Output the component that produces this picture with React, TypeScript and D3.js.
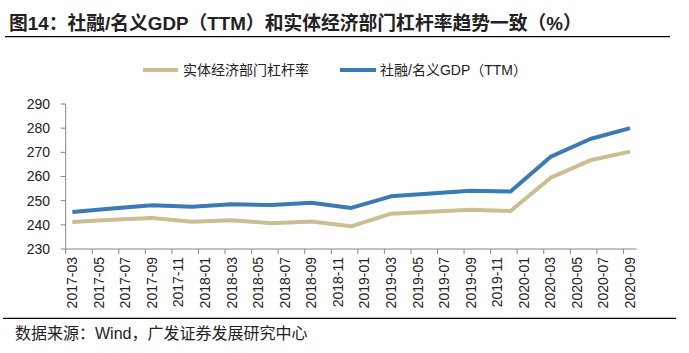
import * as d3 from 'd3';

// quarter-end months, values in %
const quarters = [
  '2017-03', '2017-06', '2017-09', '2017-12',
  '2018-03', '2018-06', '2018-09', '2018-12',
  '2019-03', '2019-06', '2019-09', '2019-12',
  '2020-03', '2020-06', '2020-09',
];
const realEconomyLeverage = [
  241.2, 242.1, 242.8, 241.3, 241.9, 240.7, 241.4, 239.4,
  244.6, 245.4, 246.2, 245.7, 259.4, 266.7, 270.3,
];
const tsfToGdp = [
  245.3, 246.8, 248.1, 247.5, 248.5, 248.2, 249.1, 247.0,
  251.8, 253.0, 254.1, 253.8, 268.1, 275.5, 280.0,
];
const yTicks = [230, 240, 250, 260, 270, 280, 290];
const xTickLabels = [
  '2017-03', '2017-05', '2017-07', '2017-09', '2017-11',
  '2018-01', '2018-03', '2018-05', '2018-07', '2018-09', '2018-11',
  '2019-01', '2019-03', '2019-05', '2019-07', '2019-09', '2019-11',
  '2020-01', '2020-03', '2020-05', '2020-07', '2020-09',
];

const seriesNames = ['实体经济部门杠杆率', '社融/名义GDP（TTM）'];
const colors = ['#CBBE93', '#3A7AB6'];

const fmt = d3.timeFormat('%Y-%m');
const months = d3.timeMonths(new Date(2017, 2, 1), new Date(2020, 9, 1)).map(fmt);

export default function App() {
  const width = 689;
  const height = 353;
  const left = 65.7;
  const right = 636.7;
  const top = 104;
  const bottom = 249;

  const x = d3.scaleBand<string>().domain(months).range([left, right]).padding(0);
  const y = d3.scaleLinear().domain([230, 290]).range([bottom, top]);
  const cx = (m: string) => (x(m) ?? 0) + x.bandwidth() / 2;

  const line = d3
    .line<number>()
    .x((_, i) => cx(quarters[i]))
    .y((d) => y(d));

  const series = [realEconomyLeverage, tsfToGdp];
  const font = '"Liberation Sans", Arial, "Noto Sans CJK SC", sans-serif';

  const legend = [
    { x1: 143, x2: 178, tx: 183 },
    { x1: 340, x2: 376, tx: 380 },
  ];

  return (
    <svg
      width={width}
      height={height}
      style={{ position: 'absolute', left: 0, top: 0, background: '#fff' }}
      fontFamily={font}
    >
      <text x={9} y={23} dy="0.35em" fontSize={18.8} fontWeight="bold" fill="#222">
        图14：社融/名义GDP（TTM）和实体经济部门杠杆率趋势一致（%）
      </text>
      <line x1={5} x2={670} y1={36.7} y2={36.7} stroke="#000" strokeWidth={1.2} />

      {legend.map((l, i) => (
        <g key={seriesNames[i]}>
          <line x1={l.x1} x2={l.x2} y1={70} y2={70} stroke={colors[i]} strokeWidth={4} />
          <text x={l.tx} y={70} dy="0.35em" fontSize={14} fill="#222">
            {seriesNames[i]}
          </text>
        </g>
      ))}

      {/* y axis */}
      <line x1={left} x2={left} y1={top} y2={bottom} stroke="#868686" />
      {yTicks.map((t) => (
        <g key={t}>
          <line x1={left - 5} x2={left} y1={y(t)} y2={y(t)} stroke="#868686" />
          <text x={50} y={y(t)} dy="0.35em" textAnchor="end" fontSize={14} fill="#222">
            {t}
          </text>
        </g>
      ))}

      {/* x axis, monthly bands, label every 2nd month */}
      <line x1={left} x2={right} y1={bottom} y2={bottom} stroke="#868686" />
      {xTickLabels.map((m) => (
        <g key={m}>
          <line x1={x(m)} x2={x(m)} y1={bottom} y2={bottom + 5} stroke="#868686" />
          <text
            transform={`translate(${cx(m)},${bottom + 8}) rotate(-90)`}
            textAnchor="end"
            dy="0.35em"
            fontSize={14}
            fill="#222"
          >
            {m}
          </text>
        </g>
      ))}

      {series.map((s, i) => (
        <path
          key={seriesNames[i]}
          d={line(s) ?? ''}
          fill="none"
          stroke={colors[i]}
          strokeWidth={4}
          strokeLinejoin="round"
        />
      ))}

      <line x1={3} x2={676} y1={318.3} y2={318.3} stroke="#000" strokeWidth={1.2} />
      <text x={15} y={333} dy="0.35em" fontSize={16} fill="#222">
        数据来源：Wind，广发证券发展研究中心
      </text>
    </svg>
  );
}
